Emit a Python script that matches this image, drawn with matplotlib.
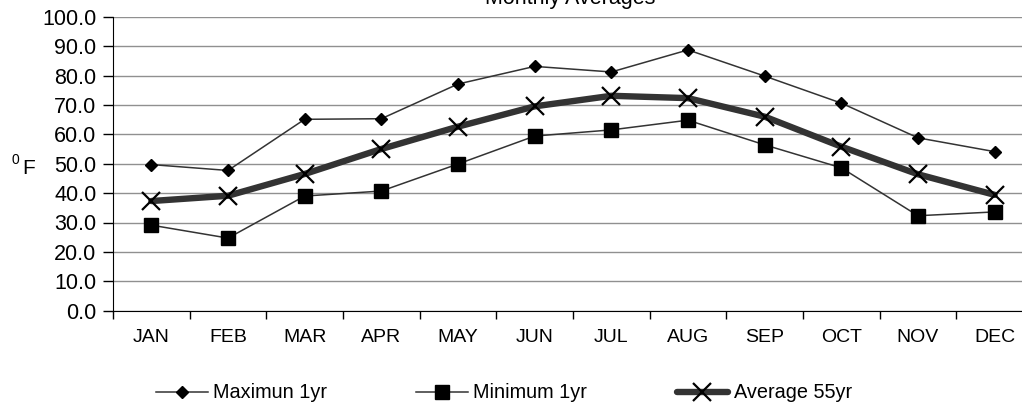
import matplotlib
matplotlib.use("Agg")
import matplotlib.pyplot as plt

plt.rcParams['font.family'] = ['Liberation Sans', 'DejaVu Sans']

months = ['JAN', 'FEB', 'MAR', 'APR', 'MAY', 'JUN',
          'JUL', 'AUG', 'SEP', 'OCT', 'NOV', 'DEC']
max_1yr = [49.7, 47.7, 65.1, 65.3, 77.1, 83.1, 81.2, 88.7, 79.8, 70.6, 58.8, 54.1]
min_1yr = [29.1, 24.7, 39.0, 40.7, 49.9, 59.4, 61.5, 64.8, 56.4, 48.6, 32.3, 33.6]
avg_55yr = [37.3, 39.1, 46.5, 55.0, 62.6, 69.5, 73.1, 72.3, 66.0, 55.8, 46.4, 39.4]
yticks = [0, 10, 20, 30, 40, 50, 60, 70, 80, 90, 100]

fig = plt.figure(figsize=(10.22, 4.05), dpi=100)
# plot area runs a little past the right edge, as in the original
ax = fig.add_axes([113 / 1022, 1 - 310.7 / 405, 920 / 1022, 294 / 405])

xs = [i + 0.5 for i in range(len(months))]
line_col = '#333333'

ax.plot(xs, max_1yr, color=line_col, lw=1.1, marker='D', ms=6,
        mfc='black', mec='black', label='Maximun 1yr', zorder=3)
ax.plot(xs, min_1yr, color=line_col, lw=1.1, marker='s', ms=10.5,
        mfc='black', mec='black', label='Minimum 1yr', zorder=3)
ax.plot(xs, avg_55yr, color=line_col, lw=4.6, marker='x', ms=13, mew=1.6,
        mec='black', solid_capstyle='round', label='Average 55yr', zorder=3)

ax.set_xlim(0, 12)
ax.set_ylim(0, 100)
ax.set_yticks(yticks)
ax.set_yticklabels([f'{v:.1f}' for v in yticks])
ax.set_xticks(range(13))
ax.set_xticklabels([])
ax.set_xticks(xs, minor=True)
ax.set_xticklabels(months, minor=True)
ax.tick_params(axis='x', which='major', direction='out', length=6, width=1)
ax.tick_params(axis='x', which='minor', length=0, pad=13, labelsize=14)
ax.tick_params(axis='y', direction='out', length=7, width=1, pad=5, labelsize=15.5)

ax.grid(axis='y', color='#909090', lw=1)
ax.set_axisbelow(True)
for s in ['top', 'right']:
    ax.spines[s].set_visible(False)
ax.spines['left'].set_color('black')
ax.spines['bottom'].set_color('black')

fig.text(570 / 1022, 1 - 4 / 405, 'Monthly Averages', ha='center', va='baseline', fontsize=15.5)
fig.text(11 / 1022, 1 - 164 / 405, '0', ha='left', va='baseline', fontsize=10)
fig.text(22 / 1022, 1 - 174 / 405, 'F', ha='left', va='baseline', fontsize=15)

fig.legend(loc='center left', bbox_to_anchor=(156 / 1022, 1 - 393 / 405), ncol=3,
           frameon=False, fontsize=14.3, handlelength=2.6, handletextpad=0.27,
           columnspacing=4.5, borderpad=0, borderaxespad=0)

fig.savefig('out.png', dpi=100)
